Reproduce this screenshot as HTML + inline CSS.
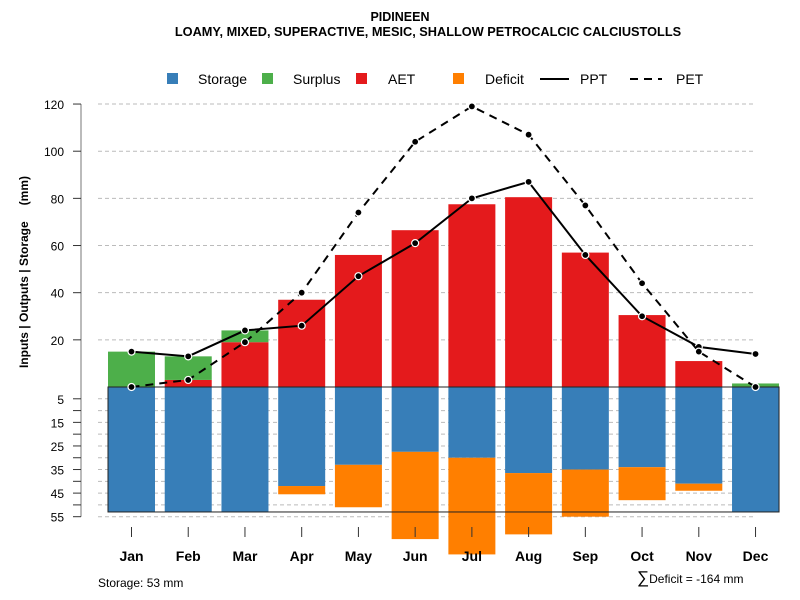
<!DOCTYPE html>
<html><head><meta charset="utf-8"><style>
body{margin:0;background:#fff}
svg{display:block;font-family:"Liberation Sans",sans-serif}
</style></head><body>
<svg id="c" width="800" height="600"></svg>
<script>
const months=["Jan","Feb","Mar","Apr","May","Jun","Jul","Aug","Sep","Oct","Nov","Dec"];
const ppt=[15,13,24,26,47,61,80,87,56,30,17,14];
const pet=[0,3,19,40,74,104,119,107,77,44,15,0];
const aet=[0,3,19,37,56,66.5,77.5,80.5,57,30.5,11,0];
const surplus=[15,10,5,0,0,0,0,0,0,0,0,1.5];
const storage=[53,53,53,42,33,27.5,30,36.5,35,34,41,53];
const deficit=[0,0,0,3.5,18,37,41,26,20,14,3,0];
const posTicks=[20,40,60,80,100,120];
const negTicks=[5,10,15,20,25,30,35,40,45,50,55];
const awc=53;

const NS="http://www.w3.org/2000/svg";
const svg=document.getElementById('c');
function el(t,a,p){const e=document.createElementNS(NS,t);for(const k in a)e.setAttribute(k,a[k]);(p||svg).appendChild(e);return e;}
const y0=387, k=2.358;
const yPos=v=>y0-v*k;
const yNeg=v=>y0+v*k;
const xC=i=>131.5+i*56.73;
const bw=47;

function txt(x,y,s,a,p){const t=el('text',Object.assign({x:x,y:y},a||{}),p);t.textContent=s;return t;}

let t=txt(400,21,"PIDINEEN",{"text-anchor":"middle","font-size":12.5,"font-weight":"bold"});


t=txt(428,36,"LOAMY, MIXED, SUPERACTIVE, MESIC, SHALLOW PETROCALCIC CALCIUSTOLLS",{"text-anchor":"middle","font-size":12.75,"font-weight":"bold"});



const leg=[["Storage","#377EB8",167,198],["Surplus","#4DAF4A",262,293],["AET","#E41A1C",356,388],["Deficit","#FF7F00",453,485]];
leg.forEach(l=>{
  const g=el('g',{});
  
  
  el('rect',{x:l[2],y:73,width:11,height:11,fill:l[1]},g);
  txt(l[3],84,l[0],{"font-size":14},g);
});
{
 const g=el('g',{});
 el('line',{x1:540,y1:79,x2:569,y2:79,stroke:'#000','stroke-width':2},g);txt(580,84,"PPT",{"font-size":14},g);
 const g2=el('g',{});
 el('line',{x1:630,y1:79,x2:662,y2:79,stroke:'#000','stroke-width':2,'stroke-dasharray':'8,6'},g2);txt(676,84,"PET",{"font-size":14},g2);
}

posTicks.forEach(v=>el('line',{x1:98,x2:755,y1:yPos(v),y2:yPos(v),stroke:'#bbb','stroke-dasharray':'4,3'}));
negTicks.forEach(v=>el('line',{x1:98,x2:755,y1:yNeg(v),y2:yNeg(v),stroke:'#bbb','stroke-dasharray':'4,3'}));

const ax=el('g',{});
el('line',{x1:81,x2:81,y1:yPos(120),y2:yNeg(55),stroke:'#777','stroke-width':1},ax);
posTicks.forEach(v=>{el('line',{x1:73,x2:81,y1:yPos(v),y2:yPos(v),stroke:'#333'},ax);txt(64,yPos(v)+5,String(v),{"text-anchor":"end","font-size":12},ax);});
negTicks.forEach(v=>{el('line',{x1:73,x2:81,y1:yNeg(v),y2:yNeg(v),stroke:'#333'},ax);if(v%10==5)txt(64,yNeg(v)+5,String(v),{"text-anchor":"end","font-size":12},ax);});
t=el('text',{x:0,y:0,"font-size":12,"font-weight":"bold","text-anchor":"middle",transform:"translate(28,272) rotate(-90)"});


el('tspan',{},t).textContent="Inputs | Outputs | Storage";
el('tspan',{dx:16},t).textContent="(mm)";

months.forEach((m,i)=>{
  const x=xC(i)-bw/2;
  let r=el('rect',{x:x,y:yPos(aet[i]),width:bw,height:aet[i]*k,fill:'#E41A1C'});
  
  
  r=el('rect',{x:x,y:yPos(aet[i]+surplus[i]),width:bw,height:surplus[i]*k,fill:'#4DAF4A'});
  
  
  r=el('rect',{x:x,y:y0,width:bw,height:storage[i]*k,fill:'#377EB8'});
  
  
  r=el('rect',{x:x,y:yNeg(storage[i]),width:bw,height:deficit[i]*k,fill:'#FF7F00'});
  
  
  el('line',{x1:xC(i),x2:xC(i),y1:527,y2:537,stroke:'#333'});
  const lb=txt(xC(i),561,m,{"text-anchor":"middle","font-size":14,"font-weight":"bold"});
  
  
});
let bx=el('rect',{x:xC(0)-bw/2,y:y0,width:xC(11)+bw/2-(xC(0)-bw/2),height:awc*k,fill:'none',stroke:'#222','stroke-width':1});



function line(arr,dash,name){
  const p=el('polyline',{points:arr.map((v,i)=>xC(i)+','+yPos(v)).join(' '),fill:'none',stroke:'#000','stroke-width':2,'stroke-dasharray':dash});
  
  
  arr.forEach((v,i)=>{const c=el('circle',{cx:xC(i),cy:yPos(v),r:3.5,fill:'#000',stroke:'#fff','stroke-width':1.2});
    
    });
}
line(ppt,'none','ppt');
line(pet,'8,6','pet');

t=txt(98,587,"Storage: "+awc+" mm",{"font-size":12});


t=el('text',{x:637,y:583,"font-size":12});


el('tspan',{"font-size":17},t).textContent="∑";
el('tspan',{},t).textContent="Deficit = -164 mm";
</script>
</body></html>
